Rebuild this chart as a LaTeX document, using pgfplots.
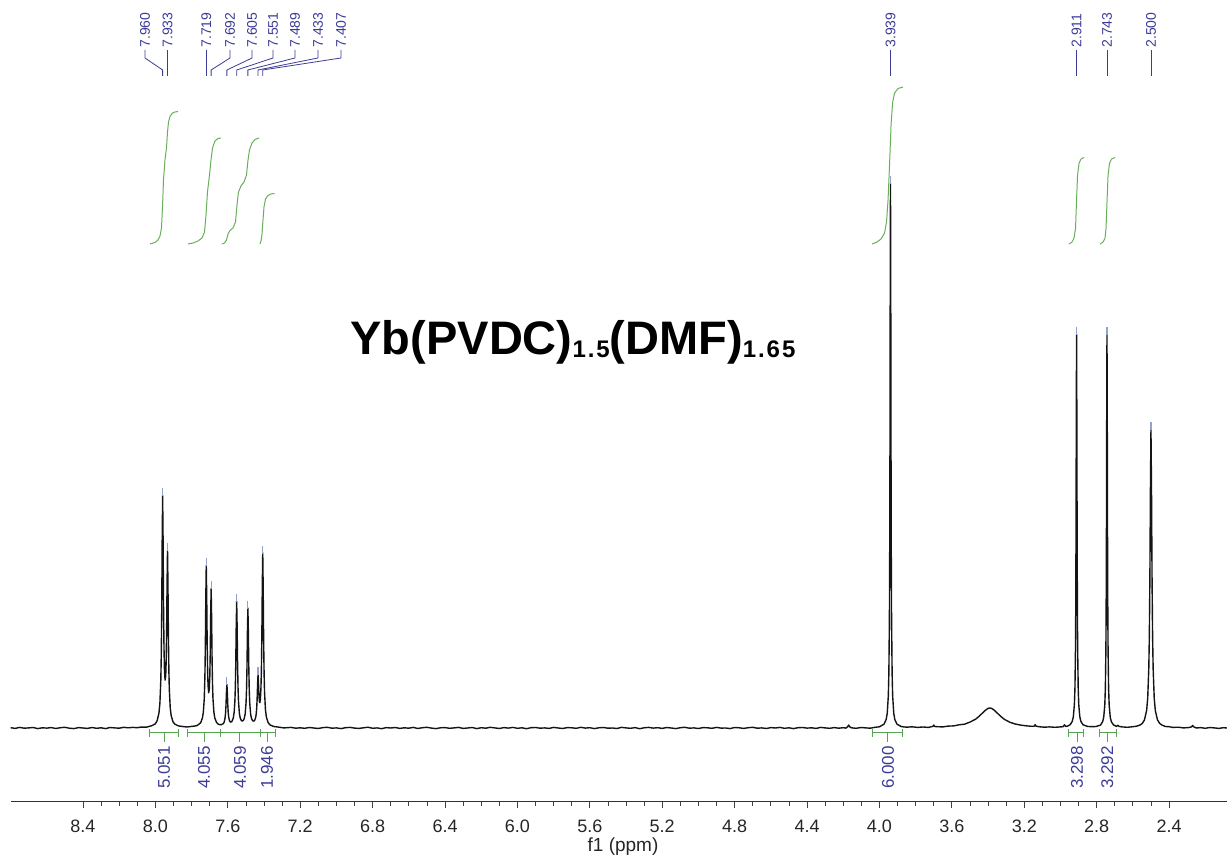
\documentclass[border=0pt]{standalone}
\usepackage{fontspec}
\setmainfont{Liberation Sans}
\usepackage{pgfplots}
\pgfplotsset{compat=1.18}
\definecolor{specblk}{RGB}{20,20,20}
\definecolor{intgreen}{RGB}{105,175,90}
\definecolor{brgreen}{RGB}{85,165,80}
\definecolor{lblblue}{RGB}{60,60,150}
\definecolor{mkblue}{RGB}{150,160,205}
\begin{document}
\begin{tikzpicture}
\useasboundingbox (0,0) rectangle (613.5pt,428.5pt);
\begin{axis}[
  at={(5.3pt,27.5pt)}, anchor=south west,
  scale only axis, width=608.2pt, height=401pt,
  xmin=2.08, xmax=8.80, ymin=-74, ymax=728,
  x dir=reverse,
  axis x line*=bottom, axis y line=none,
  x axis line style={-, line width=0.5pt, color=black!80},
  xtick={2.4,2.8,3.2,3.6,4.0,4.4,4.8,5.2,5.6,6.0,6.4,6.8,7.2,7.6,8.0,8.4},
  xticklabels={2.4,2.8,3.2,3.6,4.0,4.4,4.8,5.2,5.6,6.0,6.4,6.8,7.2,7.6,8.0,8.4},
  minor x tick num=3,
  tick align=outside,
  major tick length=3pt, minor tick length=2pt,
  every tick/.style={black!75, line width=0.4pt},
  xticklabel style={font=\fontsize{9}{10}\selectfont, text=black!85, anchor=base, yshift=-12.5pt},
  xlabel={f1 (ppm)},
  x label style={at={(axis description cs:0.5035,0)}, anchor=base, yshift=-24.5pt, font=\fontsize{9.5}{10}\selectfont, text=black!85},
  clip=false,
  unbounded coords=jump,
]
% spectrum
\addplot[specblk, line width=0.7pt, line join=round] coordinates {
(8.800,0.3) (8.775,-0.4) (8.750,0.6) (8.725,-0.2) (8.700,0.1) (8.675,0.5) (8.650,-0.6) (8.625,0.2) (8.600,-0.1) (8.575,0.4)
(8.550,-0.5) (8.525,0.3) (8.500,0.7) (8.475,-0.2) (8.450,-0.6) (8.425,0.4) (8.400,0.0) (8.375,-0.4) (8.350,0.5) (8.325,-0.3)
(8.300,0.2) (8.275,-0.6) (8.250,0.5) (8.225,0.1) (8.200,-0.2) (8.175,0.7) (8.150,0.2) (8.125,0.6) (8.100,0.3) (8.080,0.9)
(8.050,0.8) (8.020,2.3) (8.000,4.2) (7.990,7.5) (7.980,15.3) (7.975,25.1) (7.970,48.4) (7.9675,73.3) (7.965,117.5) (7.9625,186.4)
(7.960,232.6) (7.9575,188.4) (7.955,121.8) (7.9525,80.3) (7.950,58.9) (7.9465,47.9) (7.943,52.1) (7.9405,66.3) (7.938,96.1) (7.9355,145.1)
(7.933,177.5) (7.9305,142.3) (7.928,90.4) (7.9255,57.0) (7.923,38.1) (7.918,20.2) (7.913,12.5) (7.903,6.3) (7.893,3.9) (7.873,2.1)
(7.850,1.5) (7.825,1.0) (7.800,1.6) (7.785,1.9) (7.770,2.4) (7.750,5.2) (7.740,10.1) (7.735,16.0) (7.730,29.4) (7.7265,51.4)
(7.724,82.2) (7.7215,130.1) (7.719,162.5) (7.7165,131.8) (7.714,85.6) (7.7115,56.9) (7.709,42.3) (7.7055,35.2) (7.702,39.4) (7.6995,51.0)
(7.697,74.8) (7.6945,113.5) (7.692,139.4) (7.6895,111.8) (7.687,70.9) (7.6845,44.5) (7.682,29.8) (7.677,16.0) (7.672,10.1) (7.662,5.4)
(7.650,3.5) (7.635,3.3) (7.625,4.4) (7.620,5.8) (7.615,10.2) (7.6125,14.7) (7.610,22.7) (7.6075,35.2) (7.605,43.6) (7.6025,35.3)
(7.600,22.9) (7.5975,15.0) (7.595,10.8) (7.590,7.0) (7.585,5.9) (7.578,6.3) (7.570,9.7) (7.565,15.5) (7.561,26.4) (7.5585,39.9)
(7.556,64.0) (7.5535,101.5) (7.551,126.8) (7.5485,101.8) (7.546,64.4) (7.5435,40.4) (7.541,26.8) (7.536,14.5) (7.531,9.7) (7.525,7.4)
(7.520,6.9) (7.514,7.6) (7.509,9.5) (7.504,14.1) (7.499,25.8) (7.4965,38.5) (7.494,61.2) (7.4915,96.7) (7.489,119.9) (7.4865,96.4)
(7.484,60.9) (7.4815,38.3) (7.479,25.6) (7.474,13.9) (7.469,9.4) (7.462,7.1) (7.456,6.9) (7.451,7.8) (7.446,10.6) (7.443,14.1)
(7.4405,19.4) (7.438,28.8) (7.4355,43.2) (7.433,53.1) (7.4305,45.2) (7.428,33.1) (7.4255,26.7) (7.423,25.3) (7.420,28.8) (7.417,39.2)
(7.4145,56.8) (7.412,89.5) (7.4095,140.9) (7.407,175.1) (7.4045,140.2) (7.402,88.1) (7.3995,54.6) (7.397,35.8) (7.392,18.3) (7.387,11.0)
(7.377,5.3) (7.367,3.1) (7.347,1.5) (7.320,0.9) (7.290,0.1) (7.250,0.6) (7.225,-0.2)
(7.200,0.2) (7.175,-0.3) (7.150,0.5) (7.125,0.0) (7.100,-0.5) (7.075,0.4) (7.050,0.7) (7.025,-0.2) (7.000,0.1) (6.975,-0.6)
(6.950,0.3) (6.925,0.6) (6.900,-0.1) (6.875,-0.4) (6.850,0.2) (6.825,0.8) (6.800,-0.3) (6.775,0.1) (6.750,-0.7) (6.725,0.4)
(6.700,0.0) (6.675,0.5) (6.650,-0.4) (6.625,0.2) (6.600,-0.2) (6.575,0.6) (6.550,-0.5) (6.525,0.3) (6.500,0.7) (6.475,-0.1)
(6.450,-0.6) (6.425,0.2) (6.400,0.4) (6.375,-0.3) (6.350,0.1) (6.325,0.6) (6.300,-0.4) (6.275,0.0) (6.250,0.5) (6.225,-0.6)
(6.200,0.3) (6.175,-0.2) (6.150,0.7) (6.125,0.1) (6.100,-0.5) (6.075,0.4) (6.050,-0.1) (6.025,0.6) (6.000,-0.3) (5.975,0.2)
(5.950,-0.7) (5.925,0.3) (5.900,0.5) (5.875,-0.2) (5.850,0.1) (5.825,-0.4) (5.800,0.6) (5.775,0.0) (5.750,-0.5) (5.725,0.4)
(5.700,0.2) (5.675,-0.3) (5.650,0.7) (5.625,-0.1) (5.600,0.3) (5.575,-0.6) (5.550,0.2) (5.525,0.5) (5.500,-0.2) (5.475,0.0)
(5.450,-0.5) (5.425,0.6) (5.400,0.1) (5.375,-0.3) (5.350,0.4) (5.325,-0.7) (5.300,0.2) (5.275,0.6) (5.250,-0.1) (5.225,0.3)
(5.200,-0.4) (5.175,0.5) (5.150,0.0) (5.125,-0.6) (5.100,0.3) (5.075,0.7) (5.050,-0.2) (5.025,0.1) (5.000,-0.5) (4.975,0.4)
(4.950,0.2) (4.925,-0.3) (4.900,0.6) (4.875,-0.1) (4.850,0.0) (4.825,-0.6) (4.800,0.5) (4.775,0.2) (4.750,-0.4) (4.725,0.3)
(4.700,0.7) (4.675,-0.2) (4.650,0.1) (4.625,-0.5) (4.600,0.4) (4.575,0.0) (4.550,0.6) (4.525,-0.3) (4.500,0.2) (4.475,-0.6)
(4.450,0.3) (4.425,0.5) (4.400,-0.1) (4.375,0.2) (4.350,-0.4) (4.325,0.6) (4.300,0.1) (4.275,-0.3) (4.250,0.4) (4.225,-0.2)
(4.200,0.3) (4.185,-0.1) (4.175,1.4) (4.170,3.0) (4.165,1.3) (4.155,0.2) (4.130,-0.3) (4.100,0.5) (4.075,0.1) (4.050,-0.2)
(4.025,0.7) (4.000,1.2) (3.975,3.8) (3.963,8.4) (3.957,14.7) (3.951,32.1) (3.948,54.5) (3.945,109.0) (3.9435,167.7) (3.942,272.5)
(3.9405,436.0) (3.939,545.0) (3.9375,436.0) (3.936,272.5) (3.9345,167.7) (3.933,109.0) (3.930,54.5) (3.927,32.1) (3.921,14.7) (3.915,8.4)
(3.903,3.8) (3.879,1.4) (3.850,0.8) (3.820,1.2) (3.790,0.6) (3.760,1.0) (3.730,0.6) (3.705,1.6) (3.700,3.0) (3.695,1.5)
(3.680,1.3) (3.650,1.1) (3.620,1.9) (3.590,2.1) (3.560,3.2) (3.530,3.8) (3.500,5.9) (3.470,8.7) (3.450,11.6) (3.430,15.1)
(3.415,17.7) (3.400,19.6) (3.390,20.0) (3.380,19.6) (3.365,17.7) (3.350,15.1) (3.330,11.6) (3.310,8.7) (3.280,5.8) (3.250,4.0)
(3.220,2.9) (3.190,2.2) (3.160,1.7) (3.145,1.8) (3.140,3.3) (3.135,1.9) (3.120,1.3) (3.090,0.8) (3.060,1.1) (3.030,0.7)
(3.000,1.1) (2.985,1.3) (2.978,3.2) (2.971,1.5) (2.960,2.0) (2.947,3.2) (2.935,6.5) (2.929,11.1) (2.923,23.6) (2.920,39.8)
(2.917,79.1) (2.9155,121.4) (2.914,197.0) (2.9125,314.9) (2.911,393.5) (2.9095,314.9) (2.908,197.0) (2.9065,121.4) (2.905,79.1) (2.902,39.8)
(2.899,23.6) (2.893,11.1) (2.887,6.5) (2.875,3.2) (2.851,1.6) (2.827,1.3) (2.803,1.5) (2.779,2.9) (2.767,6.3) (2.761,10.8)
(2.755,23.3) (2.752,39.5) (2.749,78.8) (2.7475,121.1) (2.746,196.7) (2.7445,314.6) (2.743,393.2) (2.7415,314.6) (2.740,196.7) (2.7385,121.1)
(2.737,78.8) (2.734,39.5) (2.731,23.3) (2.725,10.8) (2.719,6.3) (2.707,3.1) (2.690,1.6) (2.683,2.8) (2.676,1.6) (2.660,1.1)
(2.630,0.7) (2.600,1.3) (2.580,1.8) (2.560,3.0) (2.548,4.6) (2.536,8.1) (2.524,17.5) (2.518,29.8) (2.512,59.6) (2.509,91.7)
(2.506,149.0) (2.503,238.4) (2.500,298.0) (2.497,238.4) (2.494,149.0) (2.491,91.7) (2.488,59.6) (2.482,29.8) (2.476,17.5) (2.464,8.1)
(2.452,4.6) (2.440,3.0) (2.420,1.5) (2.400,1.3) (2.380,0.6) (2.350,0.8) (2.320,0.1) (2.290,0.5) (2.275,1.2) (2.270,2.6)
(2.265,1.3) (2.250,0.0) (2.225,0.4) (2.200,-0.3) (2.175,0.5) (2.150,0.1) (2.125,-0.4) (2.100,0.3) (2.080,0.0)
};
% peak-pick markers
\addplot[only marks, mark=|, mark size=2pt, mkblue, mark options={line width=0.6pt}] coordinates {
(7.960,236) (7.933,181) (7.719,166) (7.692,143) (7.605,47) (7.551,130) (7.489,123) (7.433,57) (7.407,178)
(3.939,548) (2.911,397) (2.743,397) (2.500,302)};
% integral curves
\addplot[intgreen, line width=0.5pt, line join=round] coordinates {
(8.0298,484) (8.0022,485.5) (7.9856,488) (7.9746,492) (7.9663,500) (7.9602,523) (7.9552,548) (7.9470,568) (7.9387,580) (7.9331,596) (7.9276,606) (7.9193,611.5) (7.9055,615) (7.8917,616) (7.8751,616.5)};
\addplot[intgreen, line width=0.5pt, line join=round] coordinates {
(7.8199,484) (7.7923,485) (7.7646,487) (7.7425,490) (7.7287,496) (7.7204,513) (7.7122,536) (7.7011,553) (7.6928,568) (7.6845,580) (7.6707,587) (7.6541,589.5) (7.6376,590)};
\addplot[intgreen, line width=0.5pt, line join=round] coordinates {
(7.6320,484) (7.6182,485) (7.6072,488) (7.5989,494) (7.5878,497.5) (7.5713,500) (7.5575,506) (7.5492,523) (7.5409,536) (7.5271,542) (7.5105,546) (7.4967,553) (7.4884,568) (7.4801,578) (7.4663,585) (7.4497,588.5) (7.4276,590)};
\addplot[intgreen, line width=0.5pt, line join=round] coordinates {
(7.4221,484) (7.4166,487) (7.4110,494) (7.4055,508) (7.4000,521) (7.3917,529) (7.3779,532.5) (7.3613,534) (7.3420,534.5)};
\addplot[intgreen, line width=0.5pt, line join=round] coordinates {
(4.0409,484) (4.0133,486) (3.9912,489) (3.9718,495) (3.9608,506) (3.9525,528) (3.9442,563) (3.9359,603) (3.9276,625) (3.9166,635) (3.8972,639.5) (3.8696,641)};
\addplot[intgreen, line width=0.5pt, line join=round] coordinates {
(2.9525,484) (2.9359,486) (2.9249,490) (2.9166,500) (2.9111,528) (2.9055,553) (2.8972,565) (2.8862,569) (2.8696,570.5)};
\addplot[intgreen, line width=0.5pt, line join=round] coordinates {
(2.7812,484) (2.7646,486) (2.7536,490) (2.7481,500) (2.7425,528) (2.7370,553) (2.7287,565) (2.7177,569) (2.6983,570.5)};
% integral brackets
\addplot[brgreen, line width=0.5pt] coordinates {(8.030,-1) (8.030,-9) (nan,nan) (8.030,-5) (7.870,-5) (nan,nan) (7.870,-1) (7.870,-9) (nan,nan) (7.952,-5) (7.952,-14)};
\addplot[brgreen, line width=0.5pt] coordinates {(7.820,-1) (7.820,-9) (nan,nan) (7.820,-5) (7.638,-5) (nan,nan) (7.638,-1) (7.638,-9) (nan,nan) (7.731,-5) (7.731,-14)};
\addplot[brgreen, line width=0.5pt] coordinates {(7.638,-5) (7.422,-5) (nan,nan) (7.422,-1) (7.422,-9) (nan,nan) (7.533,-5) (7.533,-14)};
\addplot[brgreen, line width=0.5pt] coordinates {(7.422,-5) (7.339,-5) (nan,nan) (7.339,-1) (7.339,-9) (nan,nan) (7.383,-5) (7.383,-14)};
\addplot[brgreen, line width=0.5pt] coordinates {(4.041,-1) (4.041,-9) (nan,nan) (4.041,-5) (3.870,-5) (nan,nan) (3.870,-1) (3.870,-9) (nan,nan) (3.953,-5) (3.953,-14)};
\addplot[brgreen, line width=0.5pt] coordinates {(2.953,-1) (2.953,-9) (nan,nan) (2.953,-5) (2.870,-5) (nan,nan) (2.870,-1) (2.870,-9) (nan,nan) (2.908,-5) (2.908,-14)};
\addplot[brgreen, line width=0.5pt] coordinates {(2.787,-1) (2.787,-9) (nan,nan) (2.787,-5) (2.693,-5) (nan,nan) (2.693,-1) (2.693,-9) (nan,nan) (2.742,-5) (2.742,-14)};
% peak label leaders
\addplot[lblblue, line width=0.4pt] coordinates {(8.0575,678) (8.0575,670) (7.960,658) (7.960,652)};
\addplot[lblblue, line width=0.4pt] coordinates {(7.933,678) (7.933,652)};
\addplot[lblblue, line width=0.4pt] coordinates {(7.719,678) (7.719,652)};
\addplot[lblblue, line width=0.4pt] coordinates {(7.588,678) (7.588,670) (7.692,658) (7.692,652)};
\addplot[lblblue, line width=0.4pt] coordinates {(7.466,678) (7.466,670) (7.605,658) (7.605,652)};
\addplot[lblblue, line width=0.4pt] coordinates {(7.350,678) (7.350,670) (7.551,658) (7.551,652)};
\addplot[lblblue, line width=0.4pt] coordinates {(7.229,678) (7.229,670) (7.489,658) (7.489,652)};
\addplot[lblblue, line width=0.4pt] coordinates {(7.102,678) (7.102,670) (7.433,658) (7.433,652)};
\addplot[lblblue, line width=0.4pt] coordinates {(6.975,678) (6.975,670) (7.407,658) (7.407,652)};
\addplot[lblblue, line width=0.4pt] coordinates {(3.939,678) (3.939,652)};
\addplot[lblblue, line width=0.4pt] coordinates {(2.911,678) (2.911,652)};
\addplot[lblblue, line width=0.4pt] coordinates {(2.743,678) (2.743,652)};
\addplot[lblblue, line width=0.4pt] coordinates {(2.500,678) (2.500,652)};
% peak labels
\tikzset{pk/.style={rotate=90, anchor=west, inner sep=0pt, font=\fontsize{7}{8}\selectfont, text=lblblue},
         ig/.style={rotate=90, anchor=east, inner sep=0pt, font=\fontsize{8.5}{9}\selectfont, text=lblblue}}
\node[pk] at (axis cs:8.0575,680) {7.960};
\node[pk] at (axis cs:7.933,680) {7.933};
\node[pk] at (axis cs:7.719,680) {7.719};
\node[pk] at (axis cs:7.588,680) {7.692};
\node[pk] at (axis cs:7.466,680) {7.605};
\node[pk] at (axis cs:7.350,680) {7.551};
\node[pk] at (axis cs:7.229,680) {7.489};
\node[pk] at (axis cs:7.102,680) {7.433};
\node[pk] at (axis cs:6.975,680) {7.407};
\node[pk] at (axis cs:3.939,680) {3.939};
\node[pk] at (axis cs:2.911,680) {2.911};
\node[pk] at (axis cs:2.743,680) {2.743};
\node[pk] at (axis cs:2.500,680) {2.500};
% integral values
\node[ig] at (axis cs:7.952,-18) {5.051};
\node[ig] at (axis cs:7.731,-18) {4.055};
\node[ig] at (axis cs:7.533,-18) {4.059};
\node[ig] at (axis cs:7.383,-18) {1.946};
\node[ig] at (axis cs:3.953,-18) {6.000};
\node[ig] at (axis cs:2.908,-18) {3.298};
\node[ig] at (axis cs:2.742,-18) {3.292};
% title
\node[anchor=base, inner sep=0pt, font=\fontsize{23.5}{28}\selectfont\bfseries] at (axis cs:5.693,373)
  {Yb(PVDC)\raisebox{-1.5pt}{\fontsize{12}{12}\selectfont\addfontfeatures{LetterSpace=8}1.5}(DMF)\raisebox{-1.5pt}{\fontsize{12}{12}\selectfont\addfontfeatures{LetterSpace=8}1.65}};
\end{axis}
\end{tikzpicture}
\end{document}
